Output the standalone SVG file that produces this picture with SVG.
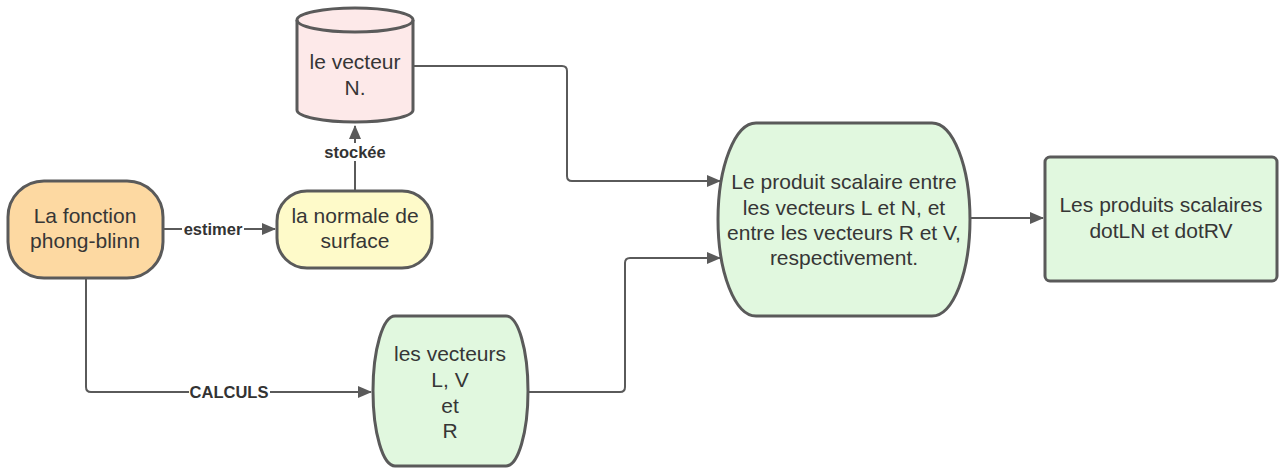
<svg xmlns="http://www.w3.org/2000/svg" width="1280" height="469" viewBox="0 0 1280 469">
  <style>
    .node { stroke: #5a5a5a; stroke-width: 3; }
    .txt { font-family: "Liberation Sans", Arial, sans-serif; font-size: 21px; fill: #363636; text-anchor: middle; }
    .lbl { font-family: "Liberation Sans", Arial, sans-serif; font-size: 16.5px; font-weight: bold; fill: #333333; text-anchor: middle; dominant-baseline: central; }
    .edge { fill: none; stroke: #5a5a5a; stroke-width: 2; }
  </style>
  <defs>
    <marker id="arrow" viewBox="0 0 14 12" refX="13" refY="6" markerWidth="14" markerHeight="12" markerUnits="userSpaceOnUse" orient="auto">
      <path d="M0,0 L14,6 L0,12 Z" fill="#5a5a5a"/>
    </marker>
  </defs>
  <rect width="1280" height="469" fill="#ffffff"/>

  <!-- connectors -->
  <g id="connectors">
    <path class="edge" d="M163,229 H275" marker-end="url(#arrow)"/>
    <path class="edge" d="M355,191 V126" marker-end="url(#arrow)"/>
    <path class="edge" d="M413,66 H562 Q567,66 567,71 V176 Q567,181 572,181 H720" marker-end="url(#arrow)"/>
    <path class="edge" d="M86,278 V387 Q86,392 91,392 H371" marker-end="url(#arrow)"/>
    <path class="edge" d="M528,392 H620 Q625,392 625,387 V263 Q625,258 630,258 H720" marker-end="url(#arrow)"/>
    <path class="edge" d="M970,218 H1043" marker-end="url(#arrow)"/>
    <!-- labels on connectors -->
    <rect x="182" y="220" width="62" height="18" fill="#ffffff"/>
    <text class="lbl" x="213" y="229">estimer</text>
    <rect x="321" y="143" width="68" height="18" fill="#ffffff"/>
    <text class="lbl" x="355" y="152">stockée</text>
    <rect x="189" y="383" width="81" height="18" fill="#ffffff"/>
    <text class="lbl" x="229" y="392">CALCULS</text>
  </g>

  <g id="fonction">
    <rect class="node" x="8" y="181" width="155" height="97" rx="36" ry="36" fill="#fdd9a2"/>
    <text class="txt" x="85" y="223">La fonction</text>
    <text class="txt" x="85" y="248">phong-blinn</text>
  </g>

  <g id="normale">
    <rect class="node" x="277" y="191" width="155" height="77" rx="30" ry="30" fill="#fefac9"/>
    <text class="txt" x="355" y="223">la normale de</text>
    <text class="txt" x="355" y="248">surface</text>
  </g>

  <g id="vecteurN">
    <path class="node" fill="#fde9e9" d="M297,20 V110 A58,12 0 0 0 413,110 V20 A58,12 0 0 0 297,20 Z"/>
    <path class="node" fill="none" d="M297,20 A58,12 0 0 0 413,20"/>
    <text class="txt" x="355" y="69">le vecteur</text>
    <text class="txt" x="355" y="95">N.</text>
  </g>

  <g id="produit">
    <path class="node" fill="#e1f8df" d="M756,123 H932 A38,96.5 0 0 1 932,316 H756 A38,96.5 0 0 1 756,123 Z"/>
    <text class="txt" x="844" y="189">Le produit scalaire entre</text>
    <text class="txt" x="844" y="215">les vecteurs L et N, et</text>
    <text class="txt" x="844" y="240">entre les vecteurs R et V,</text>
    <text class="txt" x="844" y="265">respectivement.</text>
  </g>

  <g id="vecteursLVR">
    <path class="node" fill="#e1f8df" d="M395,316 H506 A22,75 0 0 1 506,466 H395 A22,75 0 0 1 395,316 Z"/>
    <text class="txt" x="450" y="361">les vecteurs</text>
    <text class="txt" x="450" y="387">L, V</text>
    <text class="txt" x="450" y="413">et</text>
    <text class="txt" x="450" y="438">R</text>
  </g>

  <g id="resultat">
    <rect class="node" x="1045" y="157" width="232" height="124" rx="5" ry="5" fill="#e1f8df"/>
    <text class="txt" x="1161" y="212">Les produits scalaires</text>
    <text class="txt" x="1161" y="238">dotLN et dotRV</text>
  </g>
</svg>
